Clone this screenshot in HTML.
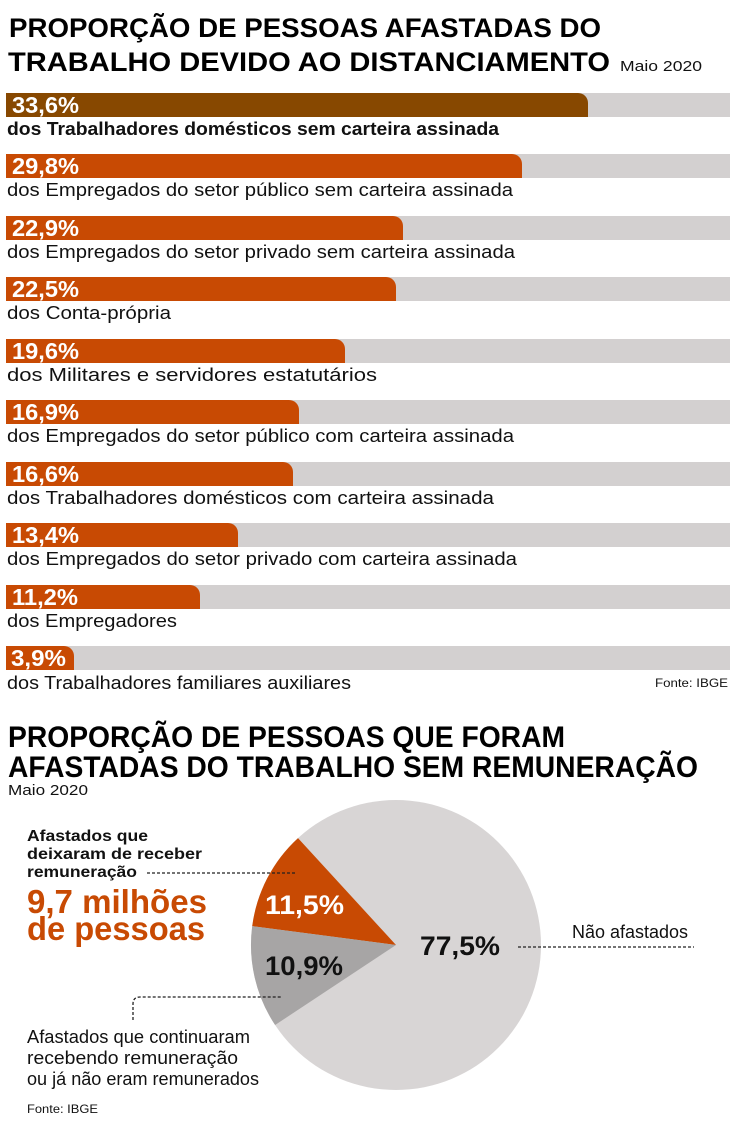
<!DOCTYPE html>
<html>
<head>
<meta charset="utf-8">
<style>
  html,body{margin:0;padding:0;background:#fff;}
  svg{display:block;}
  text{font-family:"Liberation Sans", sans-serif;}
  .t{font-weight:bold;fill:#000;}
  .pct{font-weight:bold;fill:#fff;font-size:23px;}
  .lab{font-size:18px;fill:#111;}
</style>
</head>
<body>
<svg width="730" height="1127" viewBox="0 0 730 1127" xmlns="http://www.w3.org/2000/svg">
  <rect x="0" y="0" width="730" height="1127" fill="#fff"/>

  <!-- Title 1 -->
  <text class="t" x="9" y="37" font-size="27" textLength="592" lengthAdjust="spacingAndGlyphs">PROPORÇÃO DE PESSOAS AFASTADAS DO</text>
  <text class="t" x="8" y="71" font-size="27" textLength="602" lengthAdjust="spacingAndGlyphs">TRABALHO DEVIDO AO DISTANCIAMENTO</text>
  <text x="620" y="71" font-size="15" fill="#111" textLength="82" lengthAdjust="spacingAndGlyphs">Maio 2020</text>

  <!-- Bars -->
  <g>
    <!-- 1 -->
    <rect x="6" y="93" width="724" height="24" fill="#d3d0d0"/>
    <path d="M6,93 H578 A10,10 0 0 1 588,103 V117 H6 Z" fill="#874800"/>
    <text class="pct" x="12" y="113" textLength="67" lengthAdjust="spacingAndGlyphs">33,6%</text>
    <text class="lab" x="7" y="135" font-weight="bold" fill="#000" textLength="492" lengthAdjust="spacingAndGlyphs">dos Trabalhadores domésticos sem carteira assinada</text>

    <!-- 2 -->
    <rect x="6" y="154" width="724" height="24" fill="#d3d0d0"/>
    <path d="M6,154 H512 A10,10 0 0 1 522,164 V178 H6 Z" fill="#c84a03"/>
    <text class="pct" x="12" y="174" textLength="67" lengthAdjust="spacingAndGlyphs">29,8%</text>
    <text class="lab" x="7" y="196" textLength="506" lengthAdjust="spacingAndGlyphs">dos Empregados do setor público sem carteira assinada</text>

    <!-- 3 -->
    <rect x="6" y="216" width="724" height="24" fill="#d3d0d0"/>
    <path d="M6,216 H393 A10,10 0 0 1 403,226 V240 H6 Z" fill="#c84a03"/>
    <text class="pct" x="12" y="236" textLength="67" lengthAdjust="spacingAndGlyphs">22,9%</text>
    <text class="lab" x="7" y="258" textLength="508" lengthAdjust="spacingAndGlyphs">dos Empregados do setor privado sem carteira assinada</text>

    <!-- 4 -->
    <rect x="6" y="277" width="724" height="24" fill="#d3d0d0"/>
    <path d="M6,277 H386 A10,10 0 0 1 396,287 V301 H6 Z" fill="#c84a03"/>
    <text class="pct" x="12" y="297" textLength="67" lengthAdjust="spacingAndGlyphs">22,5%</text>
    <text class="lab" x="7" y="319" textLength="164" lengthAdjust="spacingAndGlyphs">dos Conta-própria</text>

    <!-- 5 -->
    <rect x="6" y="339" width="724" height="24" fill="#d3d0d0"/>
    <path d="M6,339 H335 A10,10 0 0 1 345,349 V363 H6 Z" fill="#c84a03"/>
    <text class="pct" x="12" y="359" textLength="67" lengthAdjust="spacingAndGlyphs">19,6%</text>
    <text class="lab" x="7" y="381" textLength="370" lengthAdjust="spacingAndGlyphs">dos Militares e servidores estatutários</text>

    <!-- 6 -->
    <rect x="6" y="400" width="724" height="24" fill="#d3d0d0"/>
    <path d="M6,400 H289 A10,10 0 0 1 299,410 V424 H6 Z" fill="#c84a03"/>
    <text class="pct" x="12" y="420" textLength="67" lengthAdjust="spacingAndGlyphs">16,9%</text>
    <text class="lab" x="7" y="442" textLength="507" lengthAdjust="spacingAndGlyphs">dos Empregados do setor público com carteira assinada</text>

    <!-- 7 -->
    <rect x="6" y="462" width="724" height="24" fill="#d3d0d0"/>
    <path d="M6,462 H283 A10,10 0 0 1 293,472 V486 H6 Z" fill="#c84a03"/>
    <text class="pct" x="12" y="482" textLength="67" lengthAdjust="spacingAndGlyphs">16,6%</text>
    <text class="lab" x="7" y="504" textLength="487" lengthAdjust="spacingAndGlyphs">dos Trabalhadores domésticos com carteira assinada</text>

    <!-- 8 -->
    <rect x="6" y="523" width="724" height="24" fill="#d3d0d0"/>
    <path d="M6,523 H228 A10,10 0 0 1 238,533 V547 H6 Z" fill="#c84a03"/>
    <text class="pct" x="12" y="543" textLength="67" lengthAdjust="spacingAndGlyphs">13,4%</text>
    <text class="lab" x="7" y="565" textLength="510" lengthAdjust="spacingAndGlyphs">dos Empregados do setor privado com carteira assinada</text>

    <!-- 9 -->
    <rect x="6" y="585" width="724" height="24" fill="#d3d0d0"/>
    <path d="M6,585 H190 A10,10 0 0 1 200,595 V609 H6 Z" fill="#c84a03"/>
    <text class="pct" x="12" y="605" textLength="66" lengthAdjust="spacingAndGlyphs">11,2%</text>
    <text class="lab" x="7" y="627" textLength="170" lengthAdjust="spacingAndGlyphs">dos Empregadores</text>

    <!-- 10 -->
    <rect x="6" y="646" width="724" height="24" fill="#d3d0d0"/>
    <path d="M6,646 H64 A10,10 0 0 1 74,656 V670 H6 Z" fill="#c84a03"/>
    <text class="pct" x="11" y="666" textLength="55" lengthAdjust="spacingAndGlyphs">3,9%</text>
    <text class="lab" x="7" y="689" textLength="344" lengthAdjust="spacingAndGlyphs">dos Trabalhadores familiares auxiliares</text>
  </g>

  <text x="655" y="687" font-size="12" fill="#111" textLength="73" lengthAdjust="spacingAndGlyphs">Fonte: IBGE</text>

  <!-- Title 2 -->
  <text class="t" x="8" y="747" font-size="30" textLength="557" lengthAdjust="spacingAndGlyphs">PROPORÇÃO DE PESSOAS QUE FORAM</text>
  <text class="t" x="8" y="777" font-size="30" textLength="690" lengthAdjust="spacingAndGlyphs">AFASTADAS DO TRABALHO SEM REMUNERAÇÃO</text>
  <text x="8" y="795" font-size="15" fill="#111" textLength="80" lengthAdjust="spacingAndGlyphs">Maio 2020</text>

  <!-- Pie -->
  <circle cx="396" cy="945" r="145" fill="#d8d5d5"/>
  <path d="M396,945 L298.0,838.1 A145,145 0 0 0 252.2,926.1 Z" fill="#c84a03"/>
  <path d="M396,945 L252.2,926.1 A145,145 0 0 0 275.1,1025.0 Z" fill="#a7a5a5"/>

  <text x="265" y="914" font-size="27" font-weight="bold" fill="#fff" textLength="79" lengthAdjust="spacingAndGlyphs">11,5%</text>
  <text x="420" y="955" font-size="27" font-weight="bold" fill="#111" textLength="80" lengthAdjust="spacingAndGlyphs">77,5%</text>
  <text x="265" y="975" font-size="27" font-weight="bold" fill="#111" textLength="78" lengthAdjust="spacingAndGlyphs">10,9%</text>

  <!-- Left labels -->
  <text x="27" y="841" font-size="16" font-weight="bold" fill="#111" textLength="121" lengthAdjust="spacingAndGlyphs">Afastados que</text>
  <text x="27" y="859" font-size="16" font-weight="bold" fill="#111" textLength="175" lengthAdjust="spacingAndGlyphs">deixaram de receber</text>
  <text x="27" y="877" font-size="16" font-weight="bold" fill="#111" textLength="110" lengthAdjust="spacingAndGlyphs">remuneração</text>
  <line x1="147" y1="873" x2="297" y2="873" stroke="#222" stroke-width="1.3" stroke-dasharray="3,2"/>

  <text x="27" y="913" font-size="33" font-weight="bold" fill="#c84a03" textLength="180" lengthAdjust="spacingAndGlyphs">9,7 milhões</text>
  <text x="27" y="940" font-size="33" font-weight="bold" fill="#c84a03" textLength="178" lengthAdjust="spacingAndGlyphs">de pessoas</text>

  <!-- Right label -->
  <text x="572" y="938" font-size="18" fill="#111" textLength="116" lengthAdjust="spacingAndGlyphs">Não afastados</text>
  <line x1="518" y1="947" x2="694" y2="947" stroke="#222" stroke-width="1.3" stroke-dasharray="3,2"/>

  <!-- Bottom-left label -->
  <path d="M133,1020 V1004 Q133,997 140,997 H281" fill="none" stroke="#222" stroke-width="1.3" stroke-dasharray="3,2"/>
  <text x="27" y="1043" font-size="18" fill="#111" textLength="223" lengthAdjust="spacingAndGlyphs">Afastados que continuaram</text>
  <text x="27" y="1064" font-size="18" fill="#111" textLength="211" lengthAdjust="spacingAndGlyphs">recebendo remuneração</text>
  <text x="27" y="1085" font-size="18" fill="#111" textLength="232" lengthAdjust="spacingAndGlyphs">ou já não eram remunerados</text>
  <text x="27" y="1113" font-size="12" fill="#111" textLength="71" lengthAdjust="spacingAndGlyphs">Fonte: IBGE</text>
</svg>
</body>
</html>
